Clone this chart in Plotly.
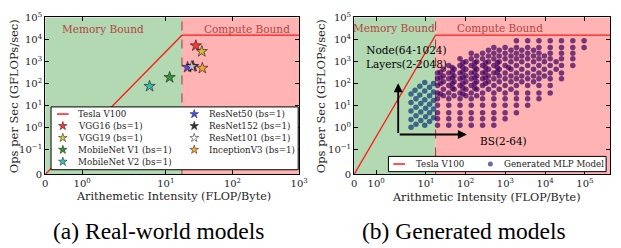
import numpy as np
import plotly.graph_objects as go

# ---------------- data ----------------
peak_gflops = 15700.0   # Tesla V100 peak (GFLOPs/sec)
mem_bw = 900.0          # Tesla V100 memory bandwidth (GB/s)

models = ["VGG16 (bs=1)", "VGG19 (bs=1)", "MobileNet V1 (bs=1)", "MobileNet V2 (bs=1)",
          "ResNet50 (bs=1)", "ResNet152 (bs=1)", "ResNet101 (bs=1)", "InceptionV3 (bs=1)"]
model_ai = [28.2, 34.6, 11.4, 5.7, 21.2, 25.7, 24.5, 35.3]
model_perf = [5260, 2900, 193, 77, 558, 617, 600, 506]

# generated MLP models: rows of (throughput, [arithmetic intensities])
mlp_rows = [
    (1.32, [19.5, 37.4, 71.9, 138, 266, 511]),
    (2.6, [19.5, 37.4, 71.9, 138, 266, 511, 982]),
    (4.8, [19.5, 37.4, 71.9, 138, 266, 511, 982, 1890]),
    (10.5, [19.5, 37.4, 71.9, 138, 266, 511, 982, 1890, 3630]),
    (21, [19.5, 37.4, 71.9, 138, 266, 511, 982, 1890, 3630, 6980]),
    (38, [19.5, 37.4, 71.9, 138, 266, 511, 982, 1890, 3630, 6980, 13400]),
    (84, [19.5, 37.4, 71.9, 138, 266, 511, 982, 1890, 3630, 6980, 13400]),
    (167, [19.5, 37.4, 71.9, 138, 266, 511, 982, 1890, 3630, 6980, 13400, 25800]),
    (303, [19.5, 37.4, 71.9, 138, 266, 511, 982, 1890, 3630, 6980, 13400, 25800]),
    (668, [37.4, 71.9, 138, 266, 511, 982, 1890, 3630, 6980, 13400, 25800, 49700]),
    (1335, [71.9, 138, 266, 511, 982, 1890, 3630, 6980, 13400, 25800, 49700]),
    (2415, [138, 266, 511, 982, 1890, 3630, 6980, 13400, 25800, 49700]),
    (4365, [511, 982, 1890, 3630, 6980, 13400, 25800, 49700, 95500]),
    (8730, [1890, 3630, 6980, 13400, 25800, 49700, 95500]),
    (3245, [374, 698, 1380, 2580, 5110]),
    (1795, [189, 374, 698, 1380, 2580, 5110, 9550]),
    (991, [101, 189, 374, 698, 1380, 2580, 5110, 9550, 18900]),
    (450, [27.4, 51, 101, 189, 374, 698, 1380, 2580, 5110, 9550, 18900]),
    (225, [27.4, 51, 101, 189, 374, 698, 1380, 2580, 5110, 9550]),
    (124, [27.4, 51, 101, 189, 374, 698, 1380, 2580, 5110]),
    (56.5, [27.4, 51, 101, 189, 374, 698, 1380]),
    (28.2, [27.4, 51, 101, 189]),
    (898, [85, 169, 315, 624]),
    (548, [46, 85, 169, 315, 624, 1200]),
    (334, [23, 46, 85, 169, 315, 624]),
    (185, [23, 46, 85, 169, 315]),
    (102, [23, 46, 85, 169, 315]),
    (62.4, [46, 85, 169]),
    (34.4, [23, 85]),
]
# memory-bound generated models
mlp_mem_ai = [9.3, 15.5, 7.0, 12.3, 5.3, 9.3, 15.5, 4.2, 7.0, 12.3, 5.6, 9.3, 15.5,
              4.2, 7.4, 12.3, 5.6, 9.8, 15.5, 4.2, 7.4, 12.3, 5.6, 9.8, 15.5,
              4.2, 7.4, 12.3, 5.6, 9.3, 4.2]
mlp_mem_perf = [113, 102, 76, 68.7, 51, 46.3, 42, 34.4, 31.2, 28.2, 21, 19, 17.3,
                14.2, 12.8, 11.6, 8.6, 7.8, 7.1, 5.8, 5.3, 4.8, 3.5, 3.2, 2.9,
                2.4, 2.16, 1.96, 1.46, 1.32, 1.08]

x_ticks_a = [0, 1, 10, 100, 1000]
x_ticks_b = [0, 1, 10, 100, 1000, 10000, 100000]
y_ticks = [0, 0.1, 1, 10, 100, 1000, 10000, 100000]
x_max_a, x_max_b, y_max = 1000, 4.3e5, 1e5

# ---------------- scales (matplotlib-like symlog) ----------------
LSA = 1.0 / (1.0 - 0.1)
XLT, YLT = 2.0, 0.1


def symlog(v, lt):
    v = np.asarray(v, dtype=float)
    return np.where(v <= lt, v / lt * LSA, LSA + np.log10(np.maximum(v, lt) / lt))


def tick_label(v):
    if v == 0:
        return "0"
    e = int(round(np.log10(v)))
    return "10<sup>%s%d</sup>" % ("\u2212" if e < 0 else "", abs(e))


mlp_ai = [a for p, row in mlp_rows for a in row] + mlp_mem_ai
mlp_perf = [p for p, row in mlp_rows for a in row] + mlp_mem_perf
ridge = peak_gflops / mem_bw

# ---------------- styling ----------------
W, H = 621, 248
SERIF = "DejaVu Serif"
GREEN_BG = "rgb(179,217,179)"
RED_BG = "rgb(255,179,179)"
BOUND_TXT = "#b5443f"
ROOF = "#ff1a1a"
star_colors = ["#ff0000", "#c8bc00", "#007a00", "#00b3b3", "#1a1aff", "#000000", "#ffffff", "#ff9a00"]
MEM_DOT = "#1c4a7a"
CMP_DOT = "#40045f"

fig = go.Figure()

# Panel (a)
fig.add_trace(go.Scatter(x=symlog([0, ridge, x_max_a], XLT), y=symlog([0, peak_gflops, peak_gflops], YLT),
                         mode="lines", line=dict(color=ROOF, width=1.3), xaxis="x", yaxis="y"))
for i, m in enumerate(models):
    fig.add_trace(go.Scatter(x=symlog([model_ai[i]], XLT), y=symlog([model_perf[i]], YLT), mode="markers",
                             name=m, xaxis="x", yaxis="y",
                             marker=dict(symbol="star", size=8.5, color=star_colors[i], opacity=0.7,
                                         line=dict(color="black", width=0.8))))
# Panel (b)
fig.add_trace(go.Scatter(x=symlog([0, ridge, x_max_b], XLT), y=symlog([0, peak_gflops, peak_gflops], YLT),
                         mode="lines", line=dict(color=ROOF, width=1.3), xaxis="x2", yaxis="y2"))
ai_arr = np.array(mlp_ai)
pf_arr = np.array(mlp_perf)
mem = ai_arr < ridge
fig.add_trace(go.Scatter(x=symlog(ai_arr[mem], XLT), y=symlog(pf_arr[mem], YLT), mode="markers",
                         xaxis="x2", yaxis="y2", marker=dict(size=5.5, color=MEM_DOT, opacity=0.8, line=dict(width=0))))
fig.add_trace(go.Scatter(x=symlog(ai_arr[~mem], XLT), y=symlog(pf_arr[~mem], YLT), mode="markers",
                         xaxis="x2", yaxis="y2", marker=dict(size=5.5, color=CMP_DOT, opacity=0.72, line=dict(width=0))))

# ---------------- regions ----------------
shapes = []
for xr, yr, xmax in (("x", "y", x_max_a), ("x2", "y2", x_max_b)):
    xr_v = float(symlog(ridge, XLT))
    shapes.append(dict(type="rect", xref=xr, yref=yr + " domain", x0=0, x1=xr_v, y0=0, y1=1,
                       fillcolor=GREEN_BG, line=dict(width=0), layer="below"))
    shapes.append(dict(type="rect", xref=xr, yref=yr + " domain", x0=xr_v, x1=float(symlog(xmax, XLT)), y0=0, y1=1,
                       fillcolor=RED_BG, line=dict(width=0), layer="below"))
    shapes.append(dict(type="line", xref=xr, yref=yr + " domain", x0=xr_v, x1=xr_v, y0=0, y1=1,
                       line=dict(color="#a03535", width=1, dash="dash"), layer="below"))

# ---------------- manual legends (pixel overlay axes x3/y3) ----------------
shapes.append(dict(type="rect", xref="x3", yref="y3", x0=49, x1=301, y0=105, y1=171,
                   fillcolor="white", line=dict(color="black", width=1), layer="below"))
shapes.append(dict(type="rect", xref="x3", yref="y3", x0=393, x1=615, y0=157, y1=173,
                   fillcolor="white", line=dict(color="black", width=1), layer="below"))

row_y = [112.5, 125, 137.5, 150, 162.5]
leg_items_left = ["Tesla V100"] + models[:4]
leg_items_right = models[4:]
key_x, key_y, key_c = [], [], []
for j in range(4):
    key_x.append(61); key_y.append(row_y[j + 1]); key_c.append(star_colors[j])
    key_x.append(195); key_y.append(row_y[j]); key_c.append(star_colors[4 + j])
fig.add_trace(go.Scatter(x=key_x, y=key_y, mode="markers", xaxis="x3", yaxis="y3",
                         marker=dict(symbol="star", size=6.5, color=key_c, opacity=0.8,
                                     line=dict(color="black", width=0.6))))
fig.add_trace(go.Scatter(x=[55, 67, None, 398, 410], y=[112.5, 112.5, None, 165, 165], mode="lines",
                         xaxis="x3", yaxis="y3", line=dict(color=ROOF, width=1.5)))
fig.add_trace(go.Scatter(x=[497], y=[165], mode="markers", xaxis="x3", yaxis="y3",
                         marker=dict(size=5, color="#6c6ca4", line=dict(width=0))))

annots = []


def txt(x, y, s, size=9, xanchor="left", color="#222", angle=0, family=SERIF, yanchor="middle"):
    annots.append(dict(x=x, y=y, xref="x3", yref="y3", text=s, showarrow=False, xanchor=xanchor,
                       yanchor=yanchor, textangle=angle, borderpad=0,
                       font=dict(family=family, size=size, color=color)))


for j, s in enumerate(leg_items_left):
    txt(75, row_y[j], s, size=8.7)
for j, s in enumerate(leg_items_right):
    txt(209, row_y[j], s, size=8.7)
txt(420, 165, "Tesla V100", size=8.7)
txt(510, 165, "Generated MLP Model", size=8.7)

# region labels
txt(101.5, 23, "Memory Bound", size=10.5, xanchor="center", color=BOUND_TXT)
txt(248.5, 23, "Compute Bound", size=10.5, xanchor="center", color=BOUND_TXT)
txt(399, 22, "Memory Bound", size=10.5, xanchor="center", color=BOUND_TXT)
txt(507, 22, "Compute Bound", size=10.5, xanchor="center", color=BOUND_TXT)

# axis titles
txt(12, 94, "Ops per Sec (GFLOPs/sec)", size=11.5, xanchor="center", angle=-90)
txt(325, 94, "Ops per Sec (GFLOPs/sec)", size=11.5, xanchor="center", angle=-90)
txt(174, 199.5, "Arithemetic Intensity (FLOP/Byte)", size=11.2, xanchor="center")
txt(493, 200.5, "Arithmetic Intensity (FLOP/Byte)", size=11.2, xanchor="center")

# captions
txt(159, 235, "(a) Real-world models", size=23.5, xanchor="center", color="black", family="Liberation Serif")
txt(470, 235, "(b) Generated models", size=23.5, xanchor="center", color="black", family="Liberation Serif")

# annotation in panel (b)
txt(369, 53, "Node(64-1024)<br>Layers(2-2048)", size=10.5, color="black")
txt(485, 141, "BS(2-64)", size=10.5, color="black")
annots.append(dict(x=403, y=80, ax=403, ay=134, xref="x3", yref="y3", axref="x3", ayref="y3", text="",
                   showarrow=True, arrowhead=2, arrowsize=1, arrowwidth=1.8, arrowcolor="black"))
annots.append(dict(x=473, y=134, ax=403, ay=134, xref="x3", yref="y3", axref="x3", ayref="y3", text="",
                   showarrow=True, arrowhead=2, arrowsize=1, arrowwidth=1.8, arrowcolor="black"))

axis_common = dict(showline=True, linecolor="black", linewidth=1, mirror="ticks", ticks="inside", ticklen=4,
                   tickcolor="black", showgrid=False, zeroline=False,
                   tickfont=dict(family=SERIF, size=10, color="#222"))

ydom = [1 - 176 / H, 1 - 11 / H]
fig.update_layout(
    width=W, height=H, margin=dict(l=0, r=0, t=0, b=0), showlegend=False,
    paper_bgcolor="white", plot_bgcolor="rgba(0,0,0,0)",
    font=dict(family=SERIF),
    xaxis=dict(domain=[43 / W, 302 / W], range=[0, float(symlog(x_max_a, XLT))], anchor="y",
               tickvals=list(symlog(x_ticks_a, XLT)), ticktext=[tick_label(v) for v in x_ticks_a], **axis_common),
    yaxis=dict(domain=ydom, range=[0, float(symlog(y_max, YLT))], anchor="x",
               tickvals=list(symlog(y_ticks, YLT)), ticktext=[tick_label(v) for v in y_ticks], **axis_common),
    xaxis2=dict(domain=[358 / W, 619 / W], range=[0, float(symlog(x_max_b, XLT))], anchor="y2",
                tickvals=list(symlog(x_ticks_b, XLT)), ticktext=[tick_label(v) for v in x_ticks_b], **axis_common),
    yaxis2=dict(domain=ydom, range=[0, float(symlog(y_max, YLT))], anchor="x2",
                tickvals=list(symlog(y_ticks, YLT)), ticktext=[tick_label(v) for v in y_ticks], **axis_common),
    xaxis3=dict(domain=[0, 1], range=[0, W], anchor="y3", visible=False, fixedrange=True),
    yaxis3=dict(domain=[0, 1], range=[H, 0], anchor="x3", visible=False, fixedrange=True),
    shapes=shapes, annotations=annots,
)

fig.write_html("out.html", config={"displayModeBar": False},
               post_script="document.body.style.margin='0';document.body.style.overflow='hidden';")
